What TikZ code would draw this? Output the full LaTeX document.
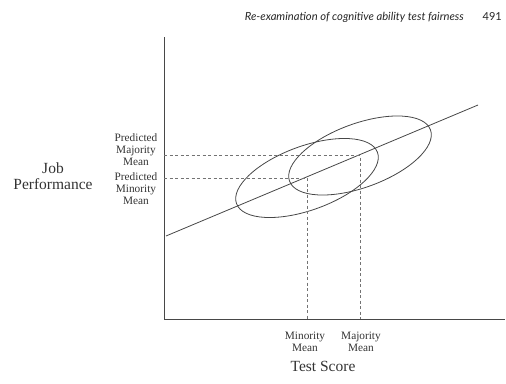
\documentclass[tikz,border=0pt]{standalone}
\usepackage{fontspec}
\setmainfont{Liberation Serif}
\newfontfamily\hdrfont{Lato}
\begin{document}
\begin{tikzpicture}[x=1pt,y=-1pt,
  ink/.style={draw=black!72, line width=0.8pt},
  guide/.style={draw=black!55, line width=0.6pt, dash pattern=on 3pt off 2.5pt},
  small/.style={font=\fontsize{11.3}{12}\selectfont, text=black!80, align=center, inner sep=0pt},
  big/.style={font=\fontsize{15.5}{15.5}\selectfont, text=black!80, align=center, inner sep=0pt},
  hdr/.style={font=\hdrfont\itshape\fontsize{11.2}{12}\selectfont, text=black!85, inner sep=0pt}]
\useasboundingbox (0,0) rectangle (506,383);
% axes
\coordinate (ytop) at (164,37);
\coordinate (origin) at (164,319);
\coordinate (xend) at (505,319);
\draw[ink] (ytop) -- (origin) -- (xend);
% regression line
\coordinate (rl0) at (166,236);
\coordinate (rl1) at (478,105);
\draw[ink] (rl0) -- (rl1);
% ellipses
\coordinate (maj) at (360,155.5);
\coordinate (min) at (307,178);
\draw[ink] (maj) ellipse [x radius=75, y radius=32, rotate=20];
\draw[ink] (min) ellipse [x radius=75, y radius=32, rotate=20];
% guide lines
\coordinate (majy) at (164,155.5);
\coordinate (majx) at (360,319);
\coordinate (miny) at (164,178);
\coordinate (minx) at (307,319);
\draw[guide] (majy) -- (maj) -- (majx);
\draw[guide] (miny) -- (min) -- (minx);
% labels
\node[hdr, anchor=base east] (title) at (464,20) {Re-examination of cognitive ability test fairness};
\node[hdr, font=\hdrfont\fontsize{11}{12}\selectfont, anchor=base east] (page) at (502,20) {491};
\node[big] (jp) at (53,176) {Job\\Performance};
\node[small] (pmaj) at (136,150) {Predicted\\Majority\\Mean};
\node[small] (pmin) at (136,189) {Predicted\\Minority\\Mean};
\node[small] (mmin) at (305,342) {Minority\\Mean};
\node[small] (mmaj) at (361,342) {Majority\\Mean};
\node[big] (ts) at (323,366) {Test Score};
\end{tikzpicture}
\end{document}
